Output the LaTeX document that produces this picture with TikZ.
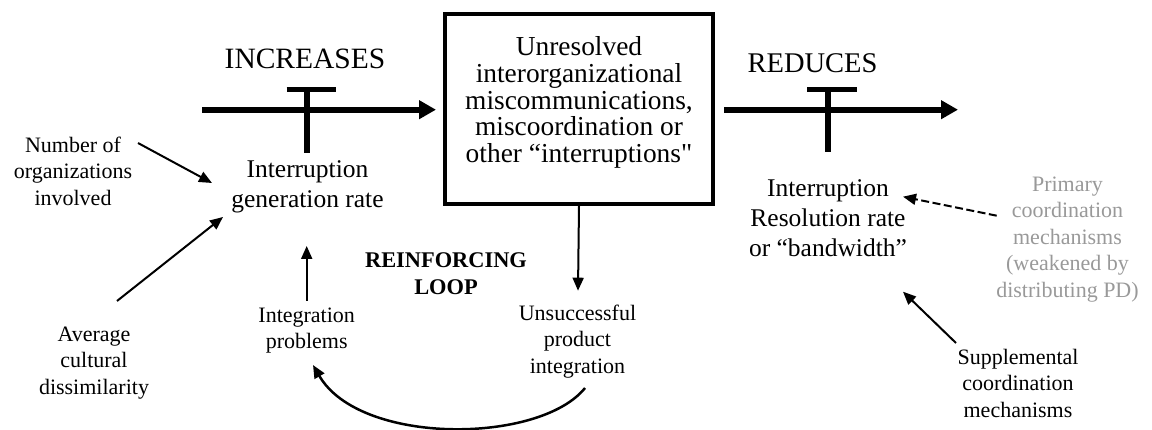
\documentclass[tikz,border=0pt]{standalone}
\usepackage{fontspec}
\setmainfont{Liberation Serif}
\usetikzlibrary{arrows.meta,calc}

% straight double quote, bypassing the TeX quote mapping
\newcommand{\plainquote}{\XeTeXglyph\XeTeXcharglyph"22\relax}

\tikzset{
  lbl/.style={align=center, inner sep=0pt, font=\fontsize{22}{26.5}\selectfont},
  rate/.style={align=center, inner sep=0pt, font=\fontsize{25.5}{30}\selectfont},
  flowarrow/.style={line width=6pt, -{Triangle[length=17pt,width=18pt]}},
  valvebar/.style={line width=5.6pt},
  valvestem/.style={line width=5.8pt},
  link/.style={line width=2pt, -{Triangle[length=13pt,width=11pt]}},
  dashlink/.style={link, dash pattern=on 8pt off 3.5pt},
  stockbox/.style={draw, line width=4pt, minimum width=268pt, minimum height=190pt, inner sep=0pt},
  stocktext/.style={align=center, inner sep=0pt, font=\fontsize{27.4}{26.9}\selectfont},
  caption/.style={inner sep=0pt, anchor=base},
}

\begin{document}
\begin{tikzpicture}[x=1pt, y=-1pt]
\useasboundingbox (0,0) rectangle (1152,430);

% stock of unresolved interruptions
\node[stockbox] (box) at (579,109) {};
\node[stocktext] (stock) at ([shift={(0,-6.5)}]box.center) {Unresolved\\interorganizational\\miscommunications,\\miscoordination or\\other “interruptions\plainquote};

% flow labels
\node[caption, font=\fontsize{29.5}{32}\selectfont] (inc) at (305,69) {INCREASES};
\node[caption, font=\fontsize{28.5}{32}\selectfont] (red) at (812.5,73) {REDUCES};

% rate variables
\node[rate] (gen) at (307.5,186.6) {Interruption\\generation rate};
\node[rate] (res) at (828,218.6) {Interruption\\Resolution rate\\or “bandwidth”};

% auxiliary variables
\node[lbl] (num) at (73,171) {Number of\\organizations\\involved};
\node[lbl] (avg) at (94,363) {Average\\cultural\\dissimilarity};
\node[lbl] (intp) at (306.7,330.5) {Integration\\problems};
\node[lbl] (uns) at (577.5,341.5) {Unsuccessful\\product\\integration};
\node[lbl, text=black!40] (prim) at (1067.5,239.5) {Primary\\coordination\\mechanisms\\(weakened by\\distributing PD)};
\node[lbl] (sup) at (1018,383.4) {Supplemental\\coordination\\mechanisms};
\node[align=center, inner sep=0pt, font=\bfseries\fontsize{22.4}{27}\selectfont] (loop) at (446,274) {REINFORCING\\LOOP};

% inflow and outflow pipes
\coordinate (src) at (202,109.7);
\coordinate (snk) at (958,109.7);
\draw[flowarrow] (src) -- ([shift={(-7,0.7)}]box.west);
\draw[flowarrow] ([shift={(9,0.7)}]box.east) -- (snk);

% valves
\coordinate (vL) at (306.7,89.5);
\coordinate (vR) at (827.7,89.5);
\draw[valvebar] ([xshift=-20]vL) -- ([xshift=29.3]vL);
\draw[valvestem] (vL) -- ([shift={(-0.8,-33.3)}]gen.center);
\draw[valvebar] ([xshift=-20.7]vR) -- ([xshift=29.3]vR);
\draw[valvestem] (vR) -- ([shift={(-0.3,-66.9)}]res.center);

% causal links
\draw[link] ([shift={(65,-28)}]num.center) -- ([shift={(-95.5,-3.6)}]gen.center);
\draw[link] ([shift={(23,-62)}]avg.center) -- ([shift={(-84.5,30.4)}]gen.center);
\draw[link] ([shift={(0,-29.5)}]intp.center) -- ([shift={(-0.8,59.4)}]gen.center);
\draw[link] (box.south) -- ([shift={(0.5,-50.8)}]uns.center);
\draw[line width=2.5pt, -{Triangle[length=13pt,width=11pt]}]
  ([shift={(7.5,46.5)}]uns.center) .. controls (540,444) and (360,446) .. ([shift={(6.3,34.5)}]intp.center);
\draw[dashlink] ([shift={(-70.8,-23.8)}]prim.center) -- ([shift={(75,-21.9)}]res.center);
\draw[link] ([shift={(-62,-40.4)}]sup.center) -- ([shift={(75,73.1)}]res.center);
\end{tikzpicture}
\end{document}
